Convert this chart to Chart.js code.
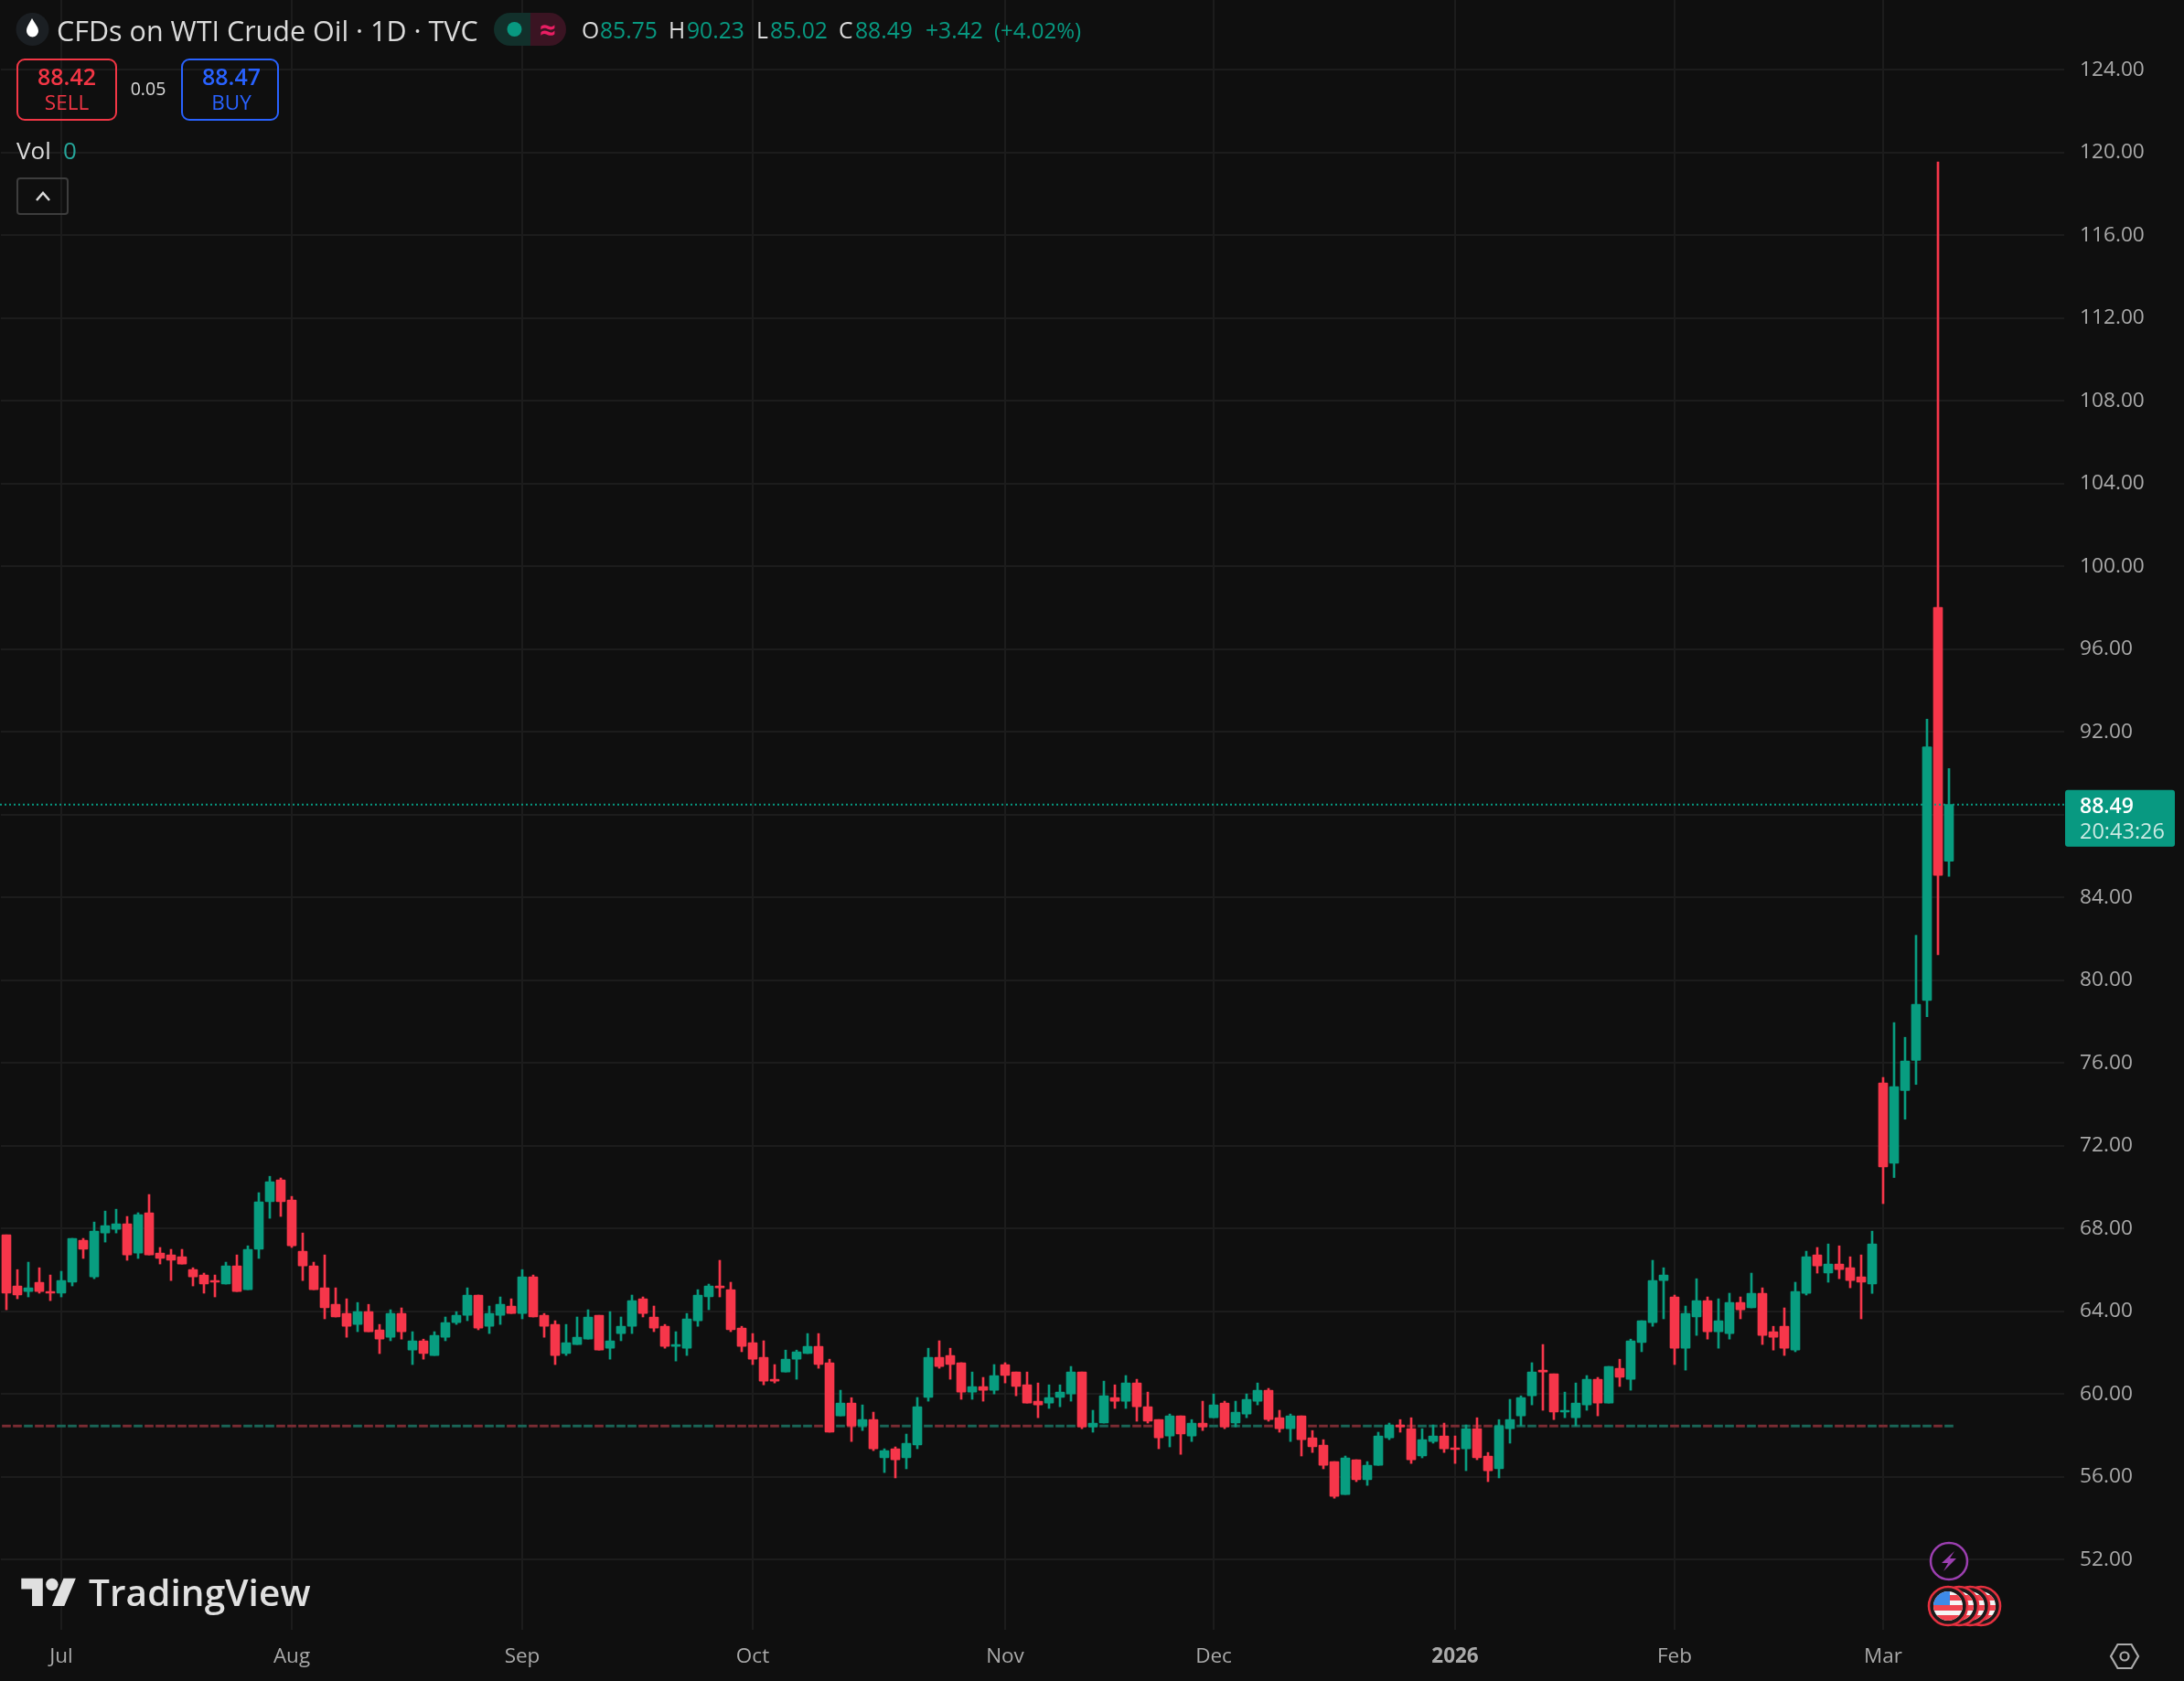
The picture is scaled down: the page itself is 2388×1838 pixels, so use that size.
<!DOCTYPE html>
<html>
<head>
<meta charset="utf-8">
<title>CFDs on WTI Crude Oil</title>
<script src="https://cdn.jsdelivr.net/npm/chart.js@4/dist/chart.umd.min.js"></script>
<style>
    html, body { margin: 0; padding: 0; background: #0f0f0f; }
    #wrap { position: relative; width: 2388px; height: 1838px; overflow: hidden; font-family: "Open Sans", sans-serif; }
    canvas { position: absolute; left: 0; top: 0; }
    .t { position: absolute; white-space: nowrap; transform: translateY(-50%); line-height: 1; color: #dbdbdb; }
    .c { transform: translate(-50%, -50%); }
    .g { color: #089981; }
    .box { position: absolute; box-sizing: border-box; top: 64px; height: 68px; border: 2px solid; border-radius: 9px; }
    svg { position: absolute; overflow: visible; }
</style>
</head>
<body>
<div id="wrap">
    <canvas id="chart" width="2388" height="1838"></canvas>

    <!-- header -->
    <svg style="left:0;top:0" width="620" height="60">
        <circle cx="35.5" cy="32" r="18" fill="#1b1f23"/>
        <path d="M35 20 C32 26 29 29 29 34 A6.5 6.5 0 0 0 42 34 C42 29 38 26 35 20 Z" fill="#fff"/>
        <path d="M558 14 H580 V50 H558 A18 18 0 0 1 558 14 Z" fill="#12302b"/>
        <path d="M580 14 H601 A18 18 0 0 1 601 50 H580 Z" fill="#3a1422"/>
        <circle cx="562.5" cy="32" r="8" fill="#089981"/>
    </svg>
    <div class="t" style="left:62px;top:33px;font-size:30.5px" id="title">CFDs on WTI Crude Oil · 1D · TVC</div>
    <div class="t c" style="left:599px;top:32px;font-size:31px;font-weight:700;color:#e91e63">≈</div>
    <div class="t" style="left:636px;top:33px;font-size:24.7px">O</div>
    <div class="t g" style="left:656px;top:33px;font-size:24.7px">85.75</div>
    <div class="t" style="left:731px;top:33px;font-size:24.7px">H</div>
    <div class="t g" style="left:751px;top:33px;font-size:24.7px">90.23</div>
    <div class="t" style="left:827px;top:33px;font-size:24.7px">L</div>
    <div class="t g" style="left:842px;top:33px;font-size:24.7px">85.02</div>
    <div class="t" style="left:917px;top:33px;font-size:24.7px">C</div>
    <div class="t g" style="left:935px;top:33px;font-size:24.7px">88.49</div>
    <div class="t g" style="left:1012px;top:33px;font-size:24.7px">+3.42</div>
    <div class="t g" style="left:1087px;top:33px;font-size:24px">(+4.02%)</div>

    <!-- sell / buy -->
    <div class="box" style="left:18px;width:110px;border-color:#f23645"></div>
    <div class="t c" style="left:73px;top:83px;font-size:25px;font-weight:600;color:#f23645">88.42</div>
    <div class="t c" style="left:73px;top:112px;font-size:22.5px;color:#f23645">SELL</div>
    <div class="t c" style="left:162px;top:97px;font-size:19.5px">0.05</div>
    <div class="box" style="left:198px;width:107px;border-color:#2962ff"></div>
    <div class="t c" style="left:253px;top:83px;font-size:25px;font-weight:600;color:#2962ff">88.47</div>
    <div class="t c" style="left:253px;top:112px;font-size:22.5px;color:#2962ff">BUY</div>

    <!-- volume legend -->
    <div class="t" style="left:18px;top:164px;font-size:26px">Vol</div>
    <div class="t" style="left:69px;top:164px;font-size:26px;color:#26a69a">0</div>
    <div class="box" style="left:18px;top:194px;width:57px;height:41px;border-color:#3d3d3d;border-radius:4px"></div>
    <svg style="left:0;top:0" width="90" height="240"><path d="M40 219 L47 211 L54 219" fill="none" stroke="#dbdbdb" stroke-width="2.5"/></svg>

    <!-- logo -->
    <svg style="left:23px;top:1719px" width="61" height="47" viewBox="0 0 36 28">
        <path d="M14 22H7V11H0V4h14v18zM28 22h-8l7.5-18h8L28 22z" fill="#e0e0e0"/>
        <circle cx="20" cy="8" r="4" fill="#e0e0e0"/>
    </svg>
    <div class="t" style="left:97px;top:1741px;font-size:40.5px;font-weight:600;letter-spacing:0.1px;color:#e0e0e0">TradingView</div>

    <!-- events -->
    <svg style="left:0;top:0" width="2388" height="1838" id="events">
        <circle cx="2131" cy="1707" r="20" fill="#0f0f0f" stroke="#9c3fb0" stroke-width="2.5"/>
        <path d="M2137 1696 L2123 1709 H2130 L2125 1718 L2139 1704 H2132 Z" fill="#9c3fb0"/>
    </svg>

    <!-- settings -->
    <svg style="left:0;top:0" width="2388" height="1838">
        <path d="M2308 1811 L2315.5 1798 H2330.5 L2338 1811 L2330.5 1824 H2315.5 Z" fill="none" stroke="#ababab" stroke-width="2.2"/>
        <circle cx="2323" cy="1811" r="4.5" fill="none" stroke="#ababab" stroke-width="2.2"/>
    </svg>
</div>

<script>
// Daily OHLC, oldest first
const opens = [
    67.69, 65.22, 64.95, 65.40, 64.95, 64.87, 65.40, 67.43, 65.66, 67.78,
    67.96, 68.22, 66.81, 68.76, 66.81, 66.72, 66.63, 66.01, 65.75, 65.48,
    65.31, 66.19, 65.04, 66.99, 69.29, 70.35, 69.37, 66.90, 66.19, 65.13,
    64.33, 63.89, 63.36, 63.98, 63.10, 62.74, 63.89, 62.12, 62.57, 61.86,
    62.74, 63.45, 63.80, 64.78, 63.27, 63.80, 64.25, 63.89, 65.66, 63.80,
    63.36, 61.95, 62.39, 62.65, 63.80, 62.21, 62.92, 63.27, 64.60, 63.72,
    63.27, 62.30, 62.21, 63.54, 64.69, 65.22, 65.04, 63.18, 62.48, 61.77,
    60.71, 61.06, 61.68, 61.95, 62.30, 61.50, 58.94, 59.56, 58.45, 58.76,
    56.91, 57.35, 56.91, 57.53, 59.83, 61.77, 61.86, 61.51, 60.09, 60.36,
    60.18, 61.42, 61.06, 60.44, 59.65, 59.56, 59.83, 60.00, 61.06, 58.41,
    58.59, 59.83, 59.65, 60.53, 59.38, 58.76, 57.97, 58.94, 57.97, 58.59,
    58.85, 59.56, 58.59, 59.03, 59.65, 60.18, 58.85, 58.32, 58.94, 57.88,
    57.53, 56.73, 55.14, 56.82, 55.85, 56.55, 57.88, 58.50, 58.32, 57.00,
    57.70, 57.97, 57.39, 57.35, 58.32, 57.00, 56.38, 58.32, 58.94, 59.91,
    61.15, 60.97, 59.12, 58.85, 59.47, 60.71, 59.56, 61.24, 60.71, 62.48,
    63.45, 65.48, 64.69, 62.21, 63.72, 64.51, 63.01, 62.92, 64.42, 64.16,
    64.87, 63.01, 63.27, 62.12, 64.86, 66.72, 65.84, 66.28, 66.10, 65.66,
    65.31, 75.03, 71.15, 74.67, 76.12, 79.02, 98.02, 85.75
];
const highs = [
    67.69, 66.01, 66.37, 66.10, 65.75, 65.93, 67.52, 67.52, 68.31, 68.84,
    68.93, 68.58, 68.76, 69.64, 67.08, 66.99, 66.99, 66.10, 65.84, 65.75,
    66.37, 66.72, 67.16, 69.73, 70.52, 70.44, 69.55, 67.78, 66.37, 66.72,
    65.13, 64.60, 64.42, 64.33, 63.36, 64.07, 64.16, 63.01, 62.65, 63.01,
    63.72, 63.98, 65.13, 64.78, 64.25, 64.69, 64.60, 66.01, 65.75, 63.89,
    63.54, 63.36, 63.72, 64.07, 63.80, 63.98, 63.72, 64.78, 64.69, 64.25,
    63.36, 63.01, 63.89, 65.04, 65.31, 66.46, 65.40, 63.27, 62.92, 62.57,
    61.42, 62.12, 62.12, 62.92, 62.92, 61.68, 60.18, 59.82, 59.47, 59.12,
    57.35, 57.44, 58.06, 59.83, 62.21, 62.57, 62.21, 61.51, 61.06, 60.80,
    61.42, 61.51, 61.06, 61.06, 60.53, 60.44, 60.44, 61.33, 61.06, 59.21,
    60.62, 60.44, 60.89, 60.71, 60.09, 58.76, 59.03, 58.94, 58.76, 59.65,
    60.00, 59.65, 59.65, 60.00, 60.53, 60.27, 59.21, 59.03, 58.94, 58.23,
    57.79, 56.73, 57.00, 56.82, 56.73, 58.15, 58.59, 58.76, 58.85, 58.32,
    58.50, 58.59, 57.97, 58.50, 58.85, 57.17, 58.76, 59.74, 59.91, 61.51,
    62.39, 60.97, 60.09, 60.53, 60.89, 60.80, 61.33, 61.68, 62.65, 63.54,
    66.46, 66.10, 64.78, 64.25, 65.57, 64.69, 64.60, 64.87, 64.69, 65.84,
    65.13, 63.27, 64.16, 65.40, 66.90, 67.08, 67.25, 67.16, 66.63, 66.72,
    67.87, 75.30, 77.95, 77.24, 82.17, 92.62, 119.55, 90.23
];
const lows = [
    64.07, 64.60, 64.69, 64.87, 64.51, 64.69, 65.22, 66.55, 65.57, 67.34,
    67.78, 66.46, 66.55, 66.72, 66.28, 65.48, 66.28, 65.22, 64.87, 64.69,
    65.31, 64.95, 65.04, 66.55, 68.49, 68.58, 67.08, 65.48, 65.04, 63.63,
    63.72, 62.74, 63.01, 63.01, 61.95, 62.57, 62.65, 61.42, 61.68, 61.86,
    62.57, 63.36, 63.54, 63.10, 62.92, 63.36, 63.89, 63.63, 63.72, 62.74,
    61.42, 61.86, 62.39, 62.65, 62.12, 61.68, 62.57, 62.92, 63.72, 63.01,
    62.21, 61.59, 61.86, 63.27, 64.07, 64.69, 63.01, 62.04, 61.42, 60.44,
    60.53, 61.06, 60.71, 61.95, 61.24, 58.15, 58.94, 57.70, 58.23, 57.26,
    56.20, 55.94, 56.38, 57.35, 59.65, 61.24, 60.71, 59.74, 59.74, 59.65,
    60.00, 60.53, 59.91, 59.56, 58.85, 59.30, 59.38, 59.65, 58.32, 58.15,
    58.59, 59.30, 59.30, 58.68, 58.59, 57.35, 57.44, 57.08, 57.70, 58.23,
    58.85, 58.32, 58.41, 58.85, 59.47, 58.68, 58.15, 57.70, 57.00, 57.17,
    56.38, 54.96, 55.14, 55.76, 55.58, 56.55, 57.79, 58.15, 56.64, 56.91,
    57.62, 57.17, 56.64, 56.29, 56.82, 55.76, 55.94, 57.62, 58.46, 59.47,
    59.21, 58.76, 58.85, 58.46, 59.21, 58.94, 59.56, 60.36, 60.18, 62.04,
    63.27, 63.63, 61.42, 61.15, 62.83, 62.65, 62.21, 62.65, 63.63, 64.16,
    62.39, 62.12, 61.86, 62.04, 64.78, 65.84, 65.40, 65.57, 65.13, 63.63,
    64.86, 69.20, 70.46, 73.28, 74.96, 78.23, 81.23, 85.02
];
const closes = [
    64.87, 64.78, 65.13, 64.95, 64.87, 65.48, 67.52, 66.99, 67.87, 68.14,
    68.22, 66.72, 68.67, 66.72, 66.55, 66.46, 66.28, 65.66, 65.31, 65.40,
    66.19, 64.95, 66.99, 69.29, 70.26, 69.29, 67.16, 66.19, 65.04, 64.16,
    63.72, 63.27, 63.98, 63.01, 62.65, 63.89, 63.01, 62.57, 61.95, 62.83,
    63.45, 63.80, 64.78, 63.18, 63.89, 64.33, 63.89, 65.66, 63.72, 63.27,
    61.86, 62.48, 62.74, 63.72, 62.12, 62.57, 63.27, 64.51, 63.89, 63.18,
    62.30, 62.39, 63.63, 64.78, 65.22, 65.13, 63.10, 62.30, 61.68, 60.62,
    60.62, 61.68, 62.04, 62.30, 61.42, 58.15, 59.56, 58.45, 58.76, 57.35,
    57.26, 56.82, 57.62, 59.38, 61.77, 61.33, 61.42, 60.09, 60.36, 60.18,
    60.89, 60.89, 60.36, 59.56, 59.47, 59.83, 60.09, 61.06, 58.41, 58.59,
    59.91, 59.65, 60.53, 59.38, 58.68, 57.88, 58.94, 58.06, 58.59, 58.41,
    59.47, 58.41, 59.12, 59.74, 60.18, 58.76, 58.32, 58.94, 57.79, 57.44,
    56.55, 55.05, 56.91, 55.85, 56.55, 57.97, 58.50, 58.41, 56.82, 57.79,
    57.97, 57.35, 57.31, 58.32, 56.91, 56.29, 58.46, 58.76, 59.83, 61.06,
    61.06, 59.12, 59.21, 59.56, 60.71, 59.56, 61.33, 60.80, 62.57, 63.54,
    65.48, 65.75, 62.21, 63.89, 64.51, 63.01, 63.54, 64.42, 64.07, 64.87,
    62.83, 62.74, 62.21, 64.95, 66.63, 66.19, 66.28, 66.01, 65.48, 65.40,
    67.25, 70.97, 74.86, 76.09, 78.84, 91.28, 85.07, 88.49
];

const monthBars = [5, 26, 47, 68, 91, 110, 132, 152, 171];
const monthNames = ['Jul', 'Aug', 'Sep', 'Oct', 'Nov', 'Dec', '2026', 'Feb', 'Mar'];
const priceTicks = [52, 56, 60, 64, 68, 72, 76, 80, 84, 88, 92, 96, 100, 104, 108, 112, 116, 120, 124];

const volumeFloor = 58.40;
const volumeCeil = 58.50;
const lastPrice = 88.49;
const countdown = '20:43:26';

const priceMin = 48.6;
const priceMax = 127.38;
const slotCount = 188;

const upColor = '#089d80';
const downColor = '#f6364a';
const upVolume = '#1a6557';
const downVolume = '#7a2c33';
const gridColor = '#1c1c1c';
const axisText = '#a9a9a9';
const tickFont = '"Open Sans", sans-serif';

const isUp = (i) => closes[i] >= opens[i];
const barColors = opens.map((_, i) => (isUp(i) ? upColor : downColor));
const volumeColors = opens.map((_, i) => (isUp(i) ? upVolume : downVolume));
const slotLabels = Array.from({ length: slotCount }, (_, i) => {
    const m = monthBars.indexOf(i);
    return m >= 0 ? monthNames[m] : '';
});

// dotted last price line and its tag on the price axis
const lastPricePlugin = {
    id: 'lastPrice',
    afterDraw(chart) {
        const { ctx, chartArea, scales } = chart;
        const y = scales.y.getPixelForValue(lastPrice);

        ctx.save();
        ctx.strokeStyle = '#089981';
        ctx.lineWidth = 2;
        ctx.setLineDash([2, 3]);
        ctx.beginPath();
        ctx.moveTo(chartArea.left - 1, y);
        ctx.lineTo(chartArea.right, y);
        ctx.stroke();
        ctx.setLineDash([]);

        ctx.fillStyle = '#089981';
        ctx.beginPath();
        ctx.roundRect(chartArea.right + 1, y - 16, 120, 62, 3);
        ctx.fill();

        ctx.textAlign = 'left';
        ctx.textBaseline = 'middle';
        ctx.fillStyle = '#ffffff';
        ctx.font = '600 23px ' + tickFont;
        ctx.fillText(lastPrice.toFixed(2), chartArea.right + 17, y + 3);
        ctx.fillStyle = '#c9e9e2';
        ctx.font = '23.5px ' + tickFont;
        ctx.fillText(countdown, chartArea.right + 17, y + 31);
        ctx.restore();
    }
};

function drawEventFlags() {
    const svg = document.getElementById('events');
    let html = '<defs>';
    for (let j = 3; j >= 0; j--) {
        const cx = 2130 + 12 * j;
        html += `<clipPath id="f${j}"><circle cx="${cx}" cy="1756" r="16"/></clipPath>`;
    }
    html += '</defs>';
    for (let j = 3; j >= 0; j--) {
        const cx = 2130 + 12 * j;
        const x = cx - 16;
        html += `<circle cx="${cx}" cy="1756" r="21" fill="#1a1a1a" stroke="#e5303f" stroke-width="2.6"/>`;
        html += `<g clip-path="url(#f${j})">
            <rect x="${x}" y="1740" width="32" height="32" fill="#f5f5f5"/>
            <rect x="${x}" y="1744" width="32" height="6" fill="#f0434f"/>
            <rect x="${x}" y="1755" width="32" height="6" fill="#f0434f"/>
            <rect x="${x}" y="1766" width="32" height="6" fill="#f0434f"/>
            <rect x="${x}" y="1740" width="18" height="15" fill="#3d8be8"/>
        </g>`;
    }
    svg.insertAdjacentHTML('beforeend', html);
}

document.addEventListener('DOMContentLoaded', () => {
    drawEventFlags();

    new Chart(document.getElementById('chart'), {
        type: 'bar',
        data: {
            labels: slotLabels,
            datasets: [
                {
                    label: 'Volume',
                    data: opens.map(() => [volumeFloor, volumeCeil]),
                    backgroundColor: volumeColors,
                    barThickness: 9,
                    grouped: false,
                    order: 3
                },
                {
                    label: 'Wick',
                    data: opens.map((_, i) => [lows[i], highs[i]]),
                    backgroundColor: barColors,
                    barThickness: 2,
                    grouped: false,
                    order: 2
                },
                {
                    label: 'Body',
                    data: opens.map((_, i) => [opens[i], closes[i]]),
                    backgroundColor: barColors,
                    barThickness: 10,
                    borderRadius: 1,
                    borderSkipped: false,
                    grouped: false,
                    order: 1
                }
            ]
        },
        options: {
            responsive: false,
            animation: false,
            layout: { autoPadding: false, padding: { left: 1, top: 0, right: 0, bottom: 0 } },
            plugins: {
                legend: { display: false },
                tooltip: { enabled: false }
            },
            scales: {
                x: {
                    offset: true,
                    border: { display: false },
                    grid: { color: gridColor, lineWidth: 2, offset: false, drawTicks: false },
                    afterBuildTicks: (scale) => { scale.ticks = monthBars.map((value) => ({ value })); },
                    afterFit: (scale) => {
                        scale.height = 56;
                        scale.paddingLeft = 0;
                        scale.paddingRight = 0;
                    },
                    ticks: {
                        autoSkip: false,
                        maxRotation: 0,
                        padding: 16,
                        color: axisText,
                        font: (ctx) => ({
                            family: tickFont,
                            size: 22.5,
                            weight: ctx.tick && ctx.tick.label === '2026' ? '700' : '400'
                        })
                    }
                },
                y: {
                    position: 'right',
                    min: priceMin,
                    max: priceMax,
                    border: { display: false },
                    grid: { color: gridColor, lineWidth: 2, drawTicks: false },
                    afterBuildTicks: (scale) => { scale.ticks = priceTicks.map((value) => ({ value })); },
                    // tick padding would otherwise push the plot down from the top edge
                    afterFit: (scale) => {
                        scale.width = 131;
                        scale.paddingTop = 0;
                        scale.paddingBottom = 0;
                    },
                    ticks: {
                        autoSkip: false,
                        padding: 17,
                        color: axisText,
                        font: { family: tickFont, size: 22.7 },
                        // 88.00 sits under the last price tag
                        callback: (value) => (value === 88 ? '' : value.toFixed(2))
                    }
                }
            }
        },
        plugins: [lastPricePlugin]
    });
});
</script>
</body>
</html>
